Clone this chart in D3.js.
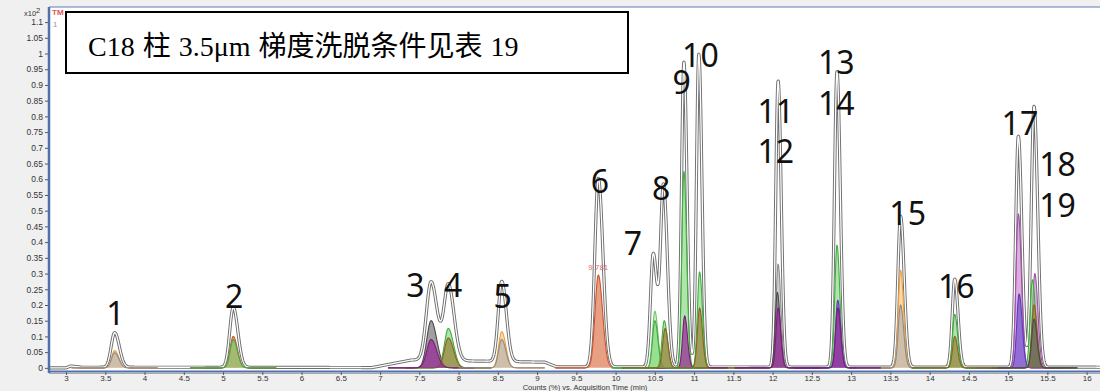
<!DOCTYPE html>
<html lang="zh">
<head>
<meta charset="utf-8">
<title>Chromatogram C18</title>
<script src="https://d3js.org/d3.v7.min.js"></script>
<style>
  body { margin: 0; background: #f0f0f0; }
  svg { display: block; }
</style>
</head>
<body>
<svg id="chart" width="1100" height="391"></svg>
<script>
// TIC peaks: retention time (min), height (x10^2 counts %), sigma (min)
const ticTimes   = [3.62, 5.13, 7.65, 7.87, 8.55, 9.78, 10.48, 10.61, 10.87, 11.06, 12.07, 12.82, 13.63, 14.32, 15.13, 15.33];
const ticHeights = [0.11, 0.19, 0.25, 0.24, 0.255, 0.6, 0.36, 0.575, 0.97, 0.995, 0.91, 0.94, 0.48, 0.28, 0.735, 0.83];
const ticWidths  = [0.045, 0.045, 0.06, 0.056, 0.045, 0.045, 0.036, 0.038, 0.03, 0.03, 0.03, 0.032, 0.035, 0.032, 0.034, 0.036];
// drifting TIC baseline, [time, value]
const ticBaseline = [[2.78, 0], [3.0, 0], [3.06, 0.006], [3.2, 0.002], [4.4, 0.002], [6.9, 0.001], [7.4, 0.025], [9.1, 0.018], [9.25, 0.003], [16.2, 0.002]];

// extracted component peaks
const compTimes   = [3.62, 3.62, 5.13, 5.13, 7.65, 7.65, 7.87, 7.87, 8.55, 8.55, 9.78,
                     10.5, 10.5, 10.62, 10.63, 10.87, 10.88, 11.07, 11.07,
                     12.07, 12.06, 12.07, 12.82, 12.83, 12.83, 13.63, 13.63, 14.32, 14.32,
                     15.13, 15.14, 15.31, 15.34, 15.33, 15.33];
const compHeights = [0.055, 0.048, 0.10, 0.09, 0.15, 0.09, 0.125, 0.095, 0.115, 0.09, 0.295,
                     0.18, 0.15, 0.15, 0.125, 0.625, 0.165, 0.305, 0.19,
                     0.33, 0.24, 0.19, 0.39, 0.215, 0.19, 0.31, 0.2, 0.17, 0.1,
                     0.49, 0.235, 0.28, 0.3, 0.2, 0.155];
const compWidths  = [0.04, 0.04, 0.04, 0.04, 0.055, 0.055, 0.05, 0.05, 0.04, 0.04, 0.042,
                     0.03, 0.03, 0.03, 0.03, 0.027, 0.027, 0.028, 0.028,
                     0.027, 0.027, 0.027, 0.028, 0.028, 0.028, 0.03, 0.03, 0.028, 0.028,
                     0.03, 0.03, 0.03, 0.03, 0.03, 0.03];
const compSeries  = ["orange", "gray", "red", "green", "dark", "magenta", "green", "brown", "orange", "gray", "red",
                     "lightgreen", "green", "green", "brown", "green", "magenta", "green", "brown",
                     "gray", "dark", "magenta", "green", "violet", "magenta", "orange", "gray", "green", "brown",
                     "pink", "violet", "green", "pink", "brown", "dark"];

const peakLabels = ["1", "2", "3", "4", "5", "6", "7", "8", "9", "10", "11", "12", "13", "14", "15", "16", "17", "18", "19"];
const labelTimes = [3.63, 5.14, 7.45, 7.93, 8.56, 9.8, 10.22, 10.58, 10.84, 11.08, 12.04, 12.04, 12.81, 12.81, 13.72, 14.34, 15.15, 15.63, 15.63];
const labelValues = [0.136, 0.19, 0.225, 0.225, 0.19, 0.555, 0.36, 0.535, 0.872, 0.958, 0.78, 0.652, 0.935, 0.805, 0.455, 0.223, 0.74, 0.61, 0.48];

const yTicks = d3.range(0, 23).map(i => i * 0.05);
const xTicks = d3.range(0, 27).map(i => 3 + i * 0.5);

const styles = {
  orange:     { stroke: "#eea03a", fill: "rgba(250,190,110,0.6)" },
  gray:       { stroke: "#8c8c8c", fill: "rgba(170,170,170,0.55)" },
  red:        { stroke: "#d0502e", fill: "rgba(222,120,80,0.7)" },
  green:      { stroke: "#3fae3f", fill: "rgba(110,205,100,0.55)" },
  lightgreen: { stroke: "#6cc46c", fill: "rgba(170,230,160,0.55)" },
  magenta:    { stroke: "#7e1a80", fill: "rgba(150,40,150,0.72)" },
  brown:      { stroke: "#86661e", fill: "rgba(150,118,50,0.65)" },
  violet:     { stroke: "#5c3cb8", fill: "rgba(115,80,210,0.7)" },
  pink:       { stroke: "#a450a8", fill: "rgba(200,120,205,0.6)" },
  dark:       { stroke: "#4a4a4a", fill: "rgba(95,95,95,0.6)" }
};

const W = 1100, H = 391;
const svg = d3.select("#chart");
const x = d3.scaleLinear().domain([2.783, 16.17]).range([49, 1100]);
const y = d3.scaleLinear().domain([-0.01, 1.148]).range([371, 7]);

function peakShape(t, t0, h, s) {
  const d = t - t0;
  const sd = d < 0 ? s : s * 1.3;
  return h * Math.exp(-(d * d) / (2 * sd * sd));
}
const baseInterp = t => {
  for (let i = 1; i < ticBaseline.length; i++) {
    const [t0, v0] = ticBaseline[i - 1], [t1, v1] = ticBaseline[i];
    if (t <= t1) return v0 + (v1 - v0) * (t - t0) / (t1 - t0);
  }
  return 0;
};

// plot background
svg.append("rect").attr("x", 49).attr("y", 7).attr("width", W - 49).attr("height", 364).attr("fill", "#fff");

const defs = svg.append("defs");
defs.append("clipPath").attr("id", "clip")
  .append("rect").attr("x", 49).attr("y", 7).attr("width", W - 49).attr("height", 364);

const plot = svg.append("g").attr("clip-path", "url(#clip)");

// TIC trace, drawn as a hollow double line
const ticData = d3.range(2.78, 16.2, 0.003).map(t => {
  let v = baseInterp(t);
  ticTimes.forEach((t0, i) => { v += peakShape(t, t0, ticHeights[i], ticWidths[i]); });
  return [t, v];
});
const line = d3.line().x(d => x(d[0])).y(d => y(d[1]));
plot.append("path").datum(ticData).attr("d", line)
  .attr("fill", "none").attr("stroke", "#6e6e6e").attr("stroke-width", 3.2).attr("stroke-linejoin", "round");
plot.append("path").datum(ticData).attr("d", line)
  .attr("fill", "none").attr("stroke", "#fff").attr("stroke-width", 1.3).attr("stroke-linejoin", "round");

// component traces, tallest first so the small ones sit on top
const comps = compTimes.map((t0, i) => ({ t0, h: compHeights[i], s: compWidths[i], key: compSeries[i] }))
  .sort((a, b) => b.h - a.h);
const area = d3.area().x(d => x(d[0])).y0(y(0)).y1(d => y(d[1]));
comps.forEach(c => {
  const pts = d3.range(c.t0 - 0.55, c.t0 + 0.55, 0.003).map(t => [t, peakShape(t, c.t0, c.h, c.s)]);
  const st = styles[c.key];
  plot.append("path").datum(pts).attr("d", area).attr("fill", st.fill);
  plot.append("path").datum(pts).attr("d", line)
    .attr("fill", "none").attr("stroke", st.stroke).attr("stroke-width", 1.1);
});

// retention time marker for peak 6
plot.append("text").attr("x", x(9.78)).attr("y", y(0.31))
  .attr("text-anchor", "middle").attr("font-family", "Liberation Sans, Arial, sans-serif")
  .attr("font-size", 8).attr("fill", "#e46a6a").text("9.781");

// peak numbers
svg.append("g").selectAll("text").data(peakLabels).join("text")
  .attr("x", (d, i) => x(labelTimes[i]))
  .attr("y", (d, i) => y(labelValues[i]))
  .attr("text-anchor", "middle")
  .attr("font-family", "Noto Sans, Open Sans, sans-serif")
  .attr("font-size", 32).attr("fill", "#111")
  .text(d => d);

// axes frame
svg.append("line").attr("x1", 49).attr("x2", W).attr("y1", 7).attr("y2", 7)
  .attr("stroke", "#5b7fb8").attr("stroke-width", 1);
svg.append("line").attr("x1", 49).attr("x2", W).attr("y1", 373.5).attr("y2", 373.5)
  .attr("stroke", "#a9a9a9").attr("stroke-width", 1);

const yAxis = svg.append("g").attr("transform", "translate(49,0)")
  .call(d3.axisLeft(y).tickValues(yTicks).tickSize(4).tickSizeOuter(0).tickFormat(d3.format("~g")));
yAxis.select(".domain").remove();
yAxis.selectAll("line").attr("stroke", "#555");
yAxis.selectAll("text").attr("font-family", "Liberation Sans, Arial, sans-serif")
  .attr("font-size", 8.5).attr("fill", "#333").attr("x", -6);

const xAxis = svg.append("g").attr("transform", "translate(0,372)")
  .call(d3.axisBottom(x).tickValues(xTicks).tickSize(3).tickSizeOuter(0).tickFormat(d3.format("~g")));
xAxis.select(".domain").remove();
xAxis.selectAll("line").attr("stroke", "#555");
xAxis.selectAll("text").attr("font-family", "Liberation Sans, Arial, sans-serif")
  .attr("font-size", 8).attr("fill", "#333").attr("y", 3.5);

svg.append("line").attr("x1", 49).attr("x2", W).attr("y1", 371.5).attr("y2", 371.5)
  .attr("stroke", "#4f72ad").attr("stroke-width", 2);
svg.append("line").attr("x1", 49).attr("x2", 49).attr("y1", 7).attr("y2", 373)
  .attr("stroke", "#4f72ad").attr("stroke-width", 2.5);

svg.append("text").attr("x", 585).attr("y", 390).attr("text-anchor", "middle")
  .attr("font-family", "Liberation Sans, Arial, sans-serif").attr("font-size", 7.5).attr("fill", "#333")
  .text("Counts (%) vs. Acquisition Time (min)");

// scale multiplier
const mult = svg.append("text").attr("x", 24).attr("y", 16)
  .attr("font-family", "Liberation Sans, Arial, sans-serif").attr("font-size", 7.5).attr("fill", "#333");
mult.append("tspan").text("x10");
mult.append("tspan").attr("dy", -3).text("2");

svg.append("text").attr("x", 52).attr("y", 15).attr("font-family", "Liberation Sans, Arial, sans-serif")
  .attr("font-size", 8).attr("font-weight", "bold").attr("fill", "#e05555").text("TM");
svg.append("text").attr("x", 53).attr("y", 27).attr("font-family", "Liberation Sans, Arial, sans-serif")
  .attr("font-size", 8).attr("fill", "#999").text("1");

// title box
svg.append("rect").attr("x", 66).attr("y", 12).attr("width", 562).attr("height", 61)
  .attr("fill", "#fff").attr("stroke", "#000").attr("stroke-width", 2);
svg.append("text").attr("x", 88).attr("y", 56)
  .attr("font-family", "Liberation Serif, Noto Sans CJK SC, serif").attr("font-size", 28)
  .attr("word-spacing", 1).attr("fill", "#000")
  .text("C18 柱 3.5μm 梯度洗脱条件见表 19");
</script>
</body>
</html>
